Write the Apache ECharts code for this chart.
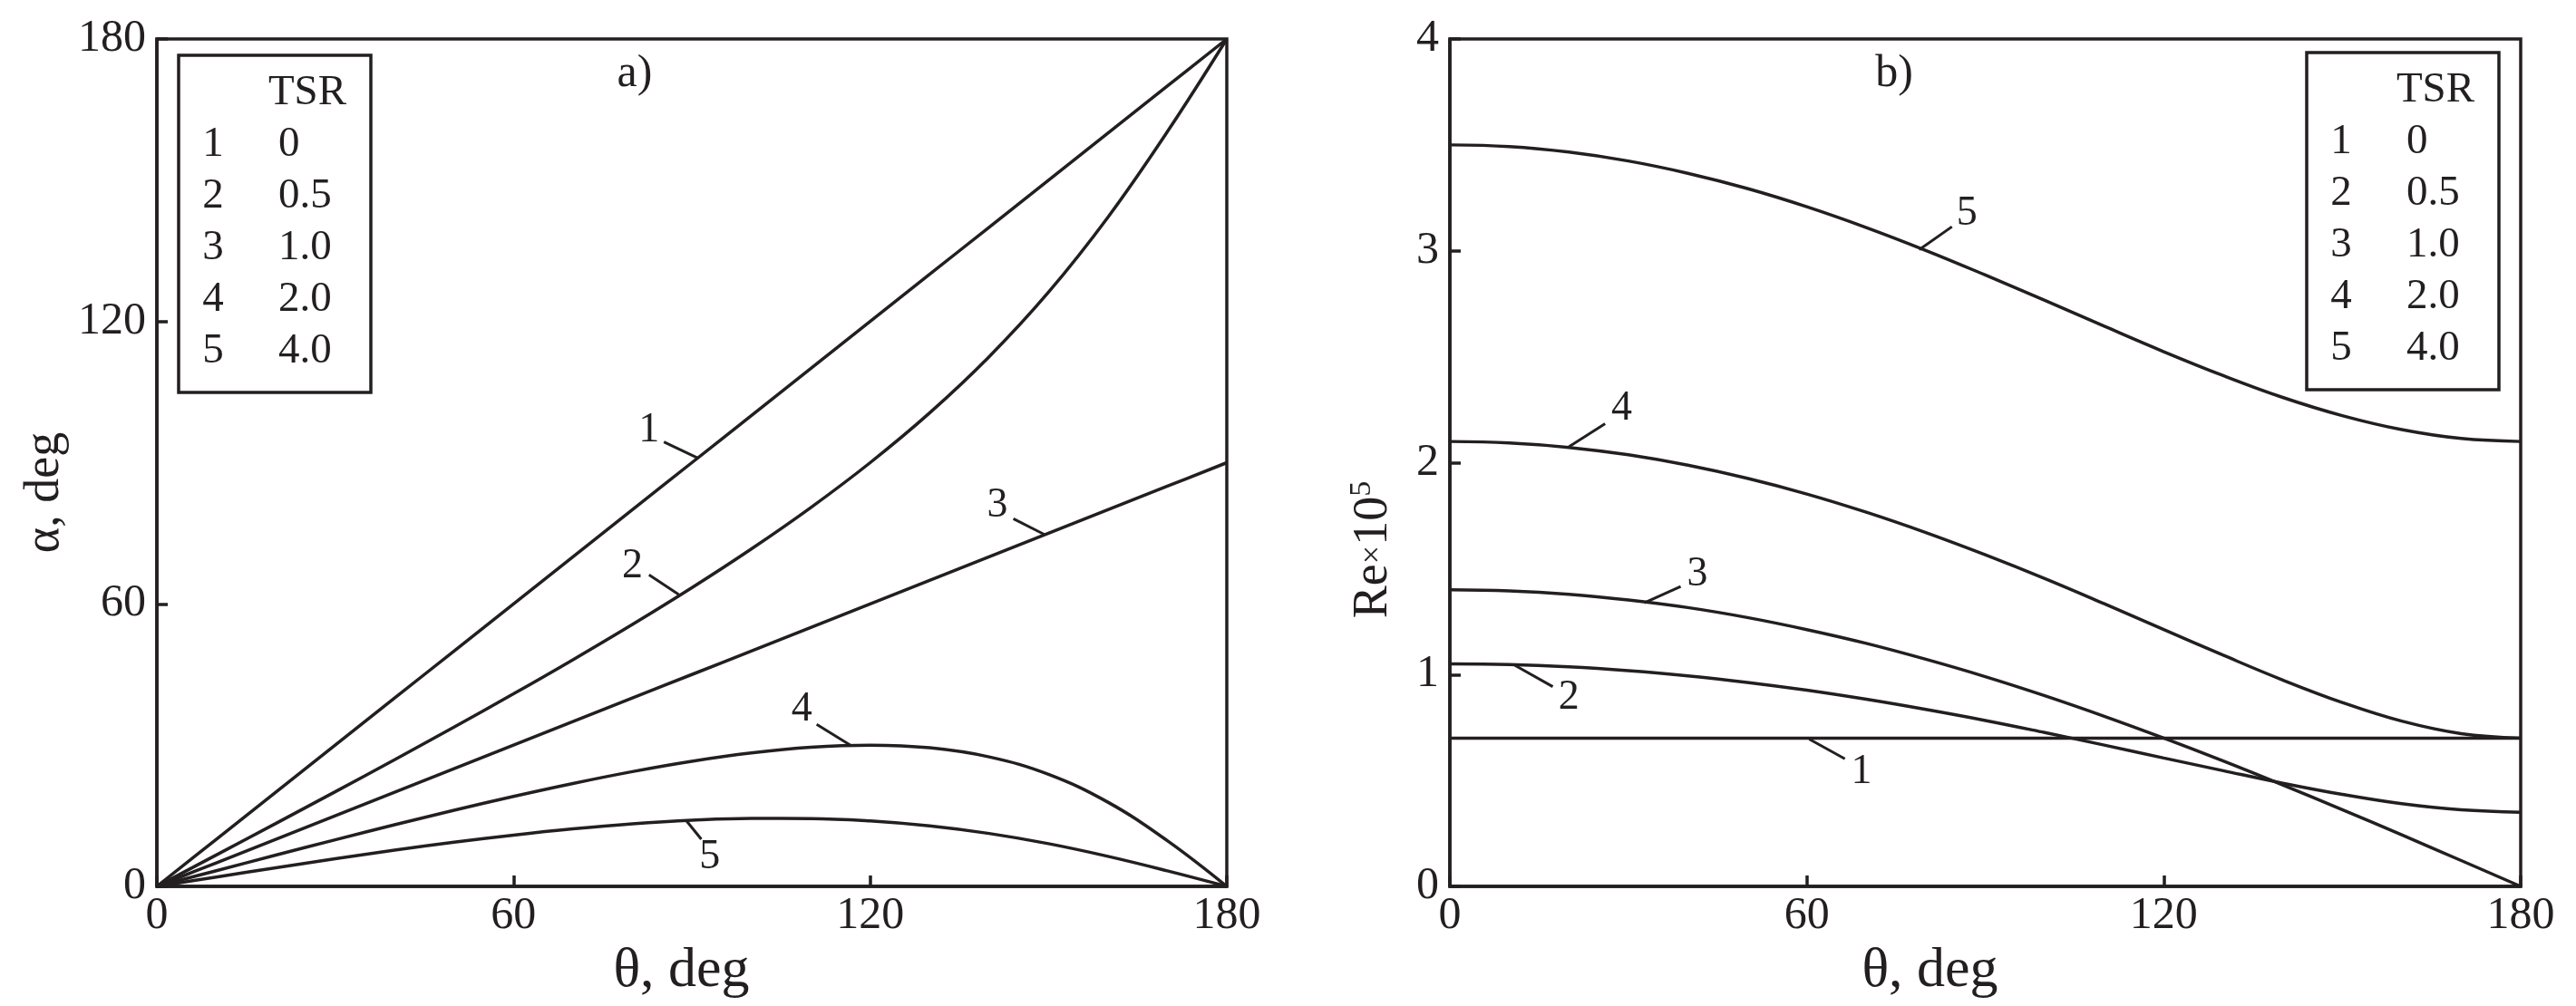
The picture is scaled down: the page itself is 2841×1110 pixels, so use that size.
<!DOCTYPE html>
<html>
<head>
<meta charset="utf-8">
<script src="https://cdn.jsdelivr.net/npm/echarts@6/dist/echarts.min.js"></script>
<style>
html,body{margin:0;padding:0;background:#fff;}
#chart{width:2841px;height:1110px;}
</style>
</head>
<body>
<div id="chart"></div>
<script>
// ---- data ----
const theta = [0,10,20,30,40,50,60,70,80,90,100,110,120,130,140,150,160,170,180];
const xTicks = [0, 60, 120, 180];
const alphaTicks = [0, 60, 120, 180];
const reTicks = [0, 1, 2, 3, 4];

// panel a) alpha, deg
const alphaTSR0  = [0,10,20,30,40,50,60,70,80,90,100,110,120,130,140,150,160,170,180];
const alphaTSR05 = [0,6.67,13.36,20.10,26.92,33.84,40.89,48.14,55.63,63.43,71.66,80.45,90.00,100.56,112.48,126.20,142.13,160.30,180];
const alphaTSR1  = [0,5,10,15,20,25,30,35,40,45,50,55,60,65,70,75,80,85,90];
const alphaTSR2  = [0,3.33,6.64,9.90,13.08,16.16,19.11,21.86,24.38,26.57,28.33,29.54,30.00,29.44,27.51,23.80,17.88,9.70,0];
const alphaTSR4  = [0,1.99,3.96,5.87,7.68,9.37,10.89,12.21,13.28,14.04,14.43,14.41,13.90,12.85,11.24,9.07,6.38,3.30,0];

// panel b) Re x 10^5
const reTSR0  = [0.700,0.700,0.700,0.700,0.700,0.700,0.700,0.700,0.700,0.700,0.700,0.700,0.700,0.700,0.700,0.700,0.700,0.700,0.700];
const reTSR05 = [1.050,1.047,1.036,1.018,0.994,0.963,0.926,0.883,0.835,0.783,0.726,0.667,0.606,0.546,0.487,0.434,0.390,0.361,0.350];
const reTSR1  = [1.400,1.395,1.379,1.352,1.316,1.269,1.212,1.147,1.072,0.990,0.900,0.803,0.700,0.592,0.479,0.362,0.243,0.122,0.000];
const reTSR2  = [2.100,2.093,2.072,2.037,1.988,1.926,1.852,1.766,1.670,1.565,1.453,1.334,1.212,1.091,0.974,0.868,0.780,0.721,0.700];
const reTSR4  = [3.500,3.492,3.466,3.424,3.366,3.294,3.208,3.110,3.002,2.886,2.766,2.644,2.524,2.411,2.308,2.222,2.156,2.114,2.100];

// legend content
const curveIds = ['1','2','3','4','5'];
const tsrLabels = ['0','0.5','1.0','2.0','4.0'];

// curve label annotations (data coords): [labelX,labelY, lineStartX,lineStartY, lineEndX,lineEndY]
const notesA = [
  [82.8,96.9, 85.3,94.4, 91.0,91.0],
  [80.0,67.9, 82.8,66.2, 87.8,62.0],
  [141.4,80.8, 144.1,78.1, 149.4,74.7],
  [108.5,37.6, 111.0,34.4, 116.8,29.9],
  [93.0,6.2, 91.6,10.0, 89.1,13.9]
];
const notesB = [
  [69.2,0.541, 66.4,0.602, 60.4,0.695],
  [20.0,0.889, 17.3,0.943, 10.9,1.044],
  [41.6,1.471, 38.8,1.416, 32.7,1.339],
  [28.9,2.253, 26.1,2.184, 20.0,2.075],
  [86.9,3.176, 84.4,3.114, 78.9,3.005]
];

// ---- styling ----
const INK = '#231f20';
const FONT = '"Liberation Serif", "Times New Roman", serif';
const LW = 3.5;
const TICK_FS = 50;

function pairs(xs, ys){ return xs.map((x,i)=>[x, ys[i]]); }

function curve(name, xs, ys, gi, note){
  return {
    name: name, type: 'line', xAxisIndex: gi, yAxisIndex: gi,
    data: pairs(xs, ys), showSymbol: false, smooth: 0.4,
    lineStyle: {color: INK, width: LW}, itemStyle: {color: INK},
    silent: true, animation: false,
    markLine: {
      silent: true, animation: false, symbol: ['none','none'],
      label: {show: false},
      lineStyle: {color: INK, width: 3, type: 'solid'},
      data: [[{coord: [note[2], note[3]]}, {coord: [note[4], note[5]]}]]
    },
    markPoint: {
      silent: true, animation: false, symbol: 'rect', symbolSize: [1,1],
      itemStyle: {color: 'rgba(0,0,0,0)'},
      label: {show: true, position: 'inside', formatter: name, color: INK, fontFamily: FONT, fontSize: 46},
      data: [{coord: [note[0], note[1]]}]
    }
  };
}

function xAxisCfg(gi, padRight){
  return {
    gridIndex: gi, type: 'value', min: xTicks[0], max: xTicks[xTicks.length-1], interval: 60,
    name: 'θ, deg', nameLocation: 'middle', nameGap: 58,
    nameTextStyle: {color: INK, fontFamily: FONT, fontSize: 62, padding: [0, padRight, 0, 0]},
    axisLine: {show: true, lineStyle: {color: INK, width: LW}},
    axisTick: {show: true, inside: true, length: 12, lineStyle: {color: INK, width: LW}},
    axisLabel: {color: INK, fontFamily: FONT, fontSize: TICK_FS, margin: 8},
    splitLine: {show: false}
  };
}

function legendGraphic(left, top){
  const els = [{
    type: 'rect', shape: {x: left, y: top, width: 212, height: 372},
    style: {fill: '#fff', stroke: INK, lineWidth: LW}, z: 10
  }, {
    type: 'text', x: left + 142, y: top + 42, z: 11,
    style: {text: 'TSR', fill: INK, font: '47px ' + FONT, textAlign: 'center', textVerticalAlign: 'middle'}
  }];
  curveIds.forEach((id, i) => {
    els.push({type: 'text', x: left + 38, y: top + 99 + i*57, z: 11,
      style: {text: id, fill: INK, font: '47px ' + FONT, textAlign: 'center', textVerticalAlign: 'middle'}});
    els.push({type: 'text', x: left + 110, y: top + 99 + i*57, z: 11,
      style: {text: tsrLabels[i], fill: INK, font: '47px ' + FONT, textAlign: 'left', textVerticalAlign: 'middle'}});
  });
  return els;
}

const chart = echarts.init(document.getElementById('chart'), null, {renderer: 'canvas'});

const option = {
  backgroundColor: '#fff',
  animation: false,
  grid: [
    {left: 173, top: 43, width: 1180, height: 935, show: true, borderColor: INK, borderWidth: LW, backgroundColor: 'transparent'},
    {left: 1599, top: 43, width: 1181, height: 935, show: true, borderColor: INK, borderWidth: LW, backgroundColor: 'transparent'}
  ],
  xAxis: [xAxisCfg(0, 23), xAxisCfg(1, 122)],
  yAxis: [
    {
      gridIndex: 0, type: 'value', min: alphaTicks[0], max: alphaTicks[alphaTicks.length-1], interval: 60,
      name: 'α, deg', nameLocation: 'middle', nameGap: 96,
      nameTextStyle: {color: INK, fontFamily: FONT, fontSize: 54, padding: [0, 66, 0, 0]},
      axisLine: {show: true, lineStyle: {color: INK, width: LW}},
      axisTick: {show: true, inside: true, length: 12, lineStyle: {color: INK, width: LW}},
      axisLabel: {color: INK, fontFamily: FONT, fontSize: TICK_FS, margin: 12},
      splitLine: {show: false}
    },
    {
      gridIndex: 1, type: 'value', min: reTicks[0], max: reTicks[reTicks.length-1], interval: 1,
      name: '{a|Re}{x|×}{a|10}{b|5}', nameLocation: 'middle', nameGap: 54,
      nameTextStyle: {color: INK, fontFamily: FONT, fontSize: 54, padding: [0, 192, 0, 0],
        rich: {
          a: {fontFamily: FONT, fontSize: 54, color: INK, lineHeight: 60},
          x: {fontFamily: FONT, fontSize: 36, color: INK, lineHeight: 60},
          b: {fontFamily: FONT, fontSize: 34, color: INK, verticalAlign: 'top', lineHeight: 60}
        }},
      axisLine: {show: true, lineStyle: {color: INK, width: LW}},
      axisTick: {show: true, inside: true, length: 12, lineStyle: {color: INK, width: LW}},
      axisLabel: {color: INK, fontFamily: FONT, fontSize: TICK_FS, margin: 12},
      splitLine: {show: false}
    }
  ],
  series: [
    curve('1', theta, alphaTSR0, 0, notesA[0]),
    curve('2', theta, alphaTSR05, 0, notesA[1]),
    curve('3', theta, alphaTSR1, 0, notesA[2]),
    curve('4', theta, alphaTSR2, 0, notesA[3]),
    curve('5', theta, alphaTSR4, 0, notesA[4]),
    curve('1', theta, reTSR0, 1, notesB[0]),
    curve('2', theta, reTSR05, 1, notesB[1]),
    curve('3', theta, reTSR1, 1, notesB[2]),
    curve('4', theta, reTSR2, 1, notesB[3]),
    curve('5', theta, reTSR4, 1, notesB[4])
  ],
  graphic: [].concat(
    legendGraphic(197, 61),
    legendGraphic(2544, 58),
    [
      {type: 'text', x: 700, y: 82, style: {text: 'a)', fill: INK, font: '50px ' + FONT, textAlign: 'center', textVerticalAlign: 'middle'}},
      {type: 'text', x: 2089, y: 82, style: {text: 'b)', fill: INK, font: '50px ' + FONT, textAlign: 'center', textVerticalAlign: 'middle'}}
    ]
  )
};

chart.setOption(option);
</script>
</body>
</html>
